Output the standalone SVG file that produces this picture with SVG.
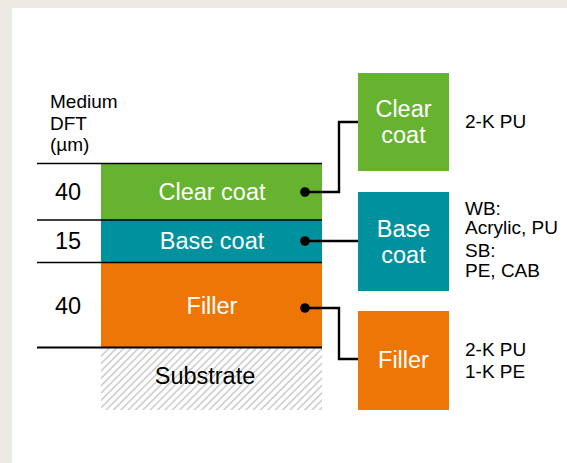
<svg xmlns="http://www.w3.org/2000/svg" width="567" height="463" viewBox="0 0 567 463">
<defs>
<pattern id="hatch" patternUnits="userSpaceOnUse" width="5.2" height="5.2" patternTransform="rotate(45)">
<rect width="5.2" height="5.2" fill="#fff"/>
<line x1="1" y1="0" x2="1" y2="5.2" stroke="#c4c2c0" stroke-width="1.3"/>
</pattern>
</defs>
<style>
text{font-family:"Liberation Sans",Arial,sans-serif}
.w{fill:#fff}
.k{fill:#000}
.big{font-size:23.5px}
.lbl{font-size:19px}
.c{stroke:#000;stroke-width:2.4;fill:none}
.rule{stroke:#000;stroke-width:1.4}
</style>
<rect width="567" height="463" fill="#ede9e3"/>
<rect x="12" y="8" width="555" height="455" fill="#fff"/>
<g id="axis-label">
<text x="50" y="108" class="k lbl">Medium</text>
<text x="50" y="130" class="k lbl">DFT</text>
<text x="50" y="151" class="k lbl">(µm)</text>
</g>
<g id="layer-clear">
<rect x="101" y="163" width="221" height="57" fill="#65b32e"/>
<text x="212" y="200" text-anchor="middle" class="w big">Clear coat</text>
<text x="68" y="200" text-anchor="middle" class="k big">40</text>
</g>
<g id="layer-base">
<rect x="101" y="220" width="221" height="42" fill="#00919e"/>
<text x="212" y="249" text-anchor="middle" class="w big">Base coat</text>
<text x="68" y="249" text-anchor="middle" class="k big">15</text>
</g>
<g id="layer-filler">
<rect x="101" y="263" width="221" height="84" fill="#ee7607"/>
<text x="212" y="314" text-anchor="middle" class="w big">Filler</text>
<text x="68" y="314" text-anchor="middle" class="k big">40</text>
</g>
<g id="layer-substrate">
<rect x="101" y="348" width="221" height="62" fill="url(#hatch)"/>
<text x="205" y="384" text-anchor="middle" class="k big">Substrate</text>
</g>
<g id="rules">
<line x1="37" y1="163.5" x2="322" y2="163.5" class="rule"/>
<line x1="37" y1="220" x2="322" y2="220" class="rule"/>
<line x1="37" y1="262.5" x2="322" y2="262.5" class="rule"/>
<line x1="37" y1="347.5" x2="322" y2="347.5" stroke="#000" stroke-width="2.2"/>
</g>
<g id="box-clear">
<rect x="358" y="73" width="91" height="98" fill="#65b32e"/>
<text x="403.5" y="117" text-anchor="middle" class="w big">Clear</text>
<text x="403.5" y="143" text-anchor="middle" class="w big">coat</text>
<text x="465" y="128" class="k lbl">2-K PU</text>
</g>
<g id="box-base">
<rect x="358" y="192" width="91" height="99" fill="#00919e"/>
<text x="403.5" y="237" text-anchor="middle" class="w big">Base</text>
<text x="403.5" y="263" text-anchor="middle" class="w big">coat</text>
<text x="465" y="215" class="k lbl">WB:</text>
<text x="465" y="234" class="k lbl">Acrylic, PU</text>
<text x="465" y="257" class="k lbl">SB:</text>
<text x="465" y="277" class="k lbl">PE, CAB</text>
</g>
<g id="box-filler">
<rect x="358" y="311" width="91" height="99" fill="#ee7607"/>
<text x="403.5" y="368" text-anchor="middle" class="w big">Filler</text>
<text x="465" y="356" class="k lbl">2-K PU</text>
<text x="465" y="378" class="k lbl">1-K PE</text>
</g>
<g id="connectors">
<polyline points="305,192 339,192 339,122 358,122" class="c"/>
<polyline points="305,241 358,241" class="c"/>
<polyline points="305,308 339,308 339,359 358,359" class="c"/>
<circle cx="305" cy="192" r="4.8" class="k"/>
<circle cx="305" cy="241" r="4.8" class="k"/>
<circle cx="305" cy="308" r="4.8" class="k"/>
</g>
</svg>
